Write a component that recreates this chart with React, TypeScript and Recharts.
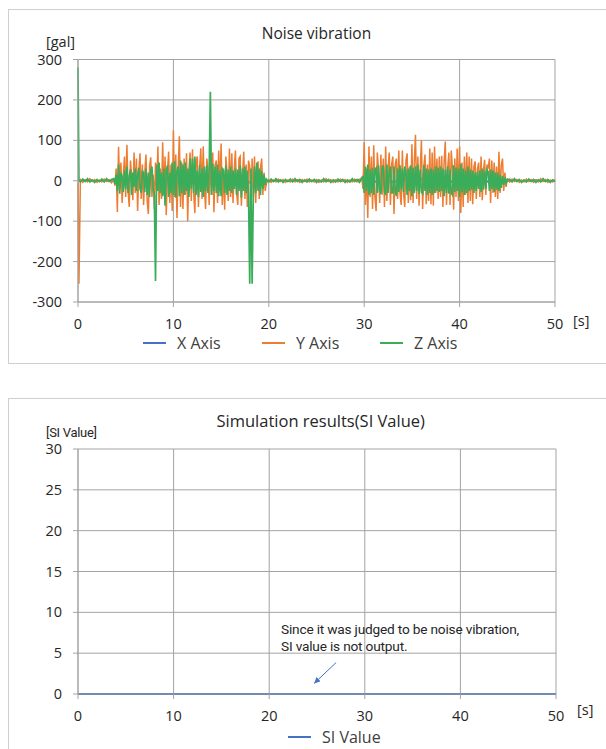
import React from "react";
import { CartesianGrid, Line, LineChart, ReferenceLine, XAxis, YAxis } from "recharts";

// sample times [s] of the Y / Z records
const time = [
  0, 0.1,
  0.25, 0.5, 0.75, 1, 1.25, 1.5, 1.75, 2, 2.25, 2.5, 2.75, 3, 3.25, 3.5,
  3.75, 3.875,
  4, 4.125, 4.25, 4.375, 4.5, 4.625, 4.75, 4.875,
  5, 5.125, 5.25, 5.375, 5.5, 5.625, 5.75, 5.875,
  6, 6.125, 6.25, 6.375, 6.5, 6.625, 6.75, 6.875,
  7, 7.125, 7.25, 7.375, 7.5, 7.625, 7.75, 7.875,
  8, 8.125, 8.25, 8.375, 8.5, 8.625, 8.75, 8.875,
  9, 9.125, 9.25, 9.375, 9.5, 9.625, 9.75, 9.875,
  10, 10.125, 10.25, 10.375, 10.5, 10.625, 10.75, 10.875,
  11, 11.125, 11.25, 11.375, 11.5, 11.625, 11.75, 11.875,
  12, 12.125, 12.25, 12.375, 12.5, 12.625, 12.75, 12.875,
  13, 13.125, 13.25, 13.375, 13.5, 13.625, 13.75, 13.875,
  14, 14.125, 14.25, 14.375, 14.5, 14.625, 14.75, 14.875,
  15, 15.125, 15.25, 15.375, 15.5, 15.625, 15.75, 15.875,
  16, 16.125, 16.25, 16.375, 16.5, 16.625, 16.75, 16.875,
  17, 17.125, 17.25, 17.375, 17.5, 17.625, 17.75, 17.875,
  18, 18.125, 18.25, 18.375, 18.5, 18.625, 18.75, 18.875,
  19, 19.125, 19.25, 19.375, 19.5, 19.625, 19.75,
  20, 20.25, 20.5, 20.75, 21, 21.25, 21.5, 21.75, 22, 22.25,
  22.5, 22.75, 23, 23.25, 23.5, 23.75, 24, 24.25, 24.5, 24.75,
  25, 25.25, 25.5, 25.75, 26, 26.25, 26.5, 26.75, 27, 27.25,
  27.5, 27.75, 28, 28.25, 28.5, 28.75, 29, 29.25, 29.5,
  29.75, 29.875,
  30, 30.125, 30.25, 30.375, 30.5, 30.625, 30.75, 30.875,
  31, 31.125, 31.25, 31.375, 31.5, 31.625, 31.75, 31.875,
  32, 32.125, 32.25, 32.375, 32.5, 32.625, 32.75, 32.875,
  33, 33.125, 33.25, 33.375, 33.5, 33.625, 33.75, 33.875,
  34, 34.125, 34.25, 34.375, 34.5, 34.625, 34.75, 34.875,
  35, 35.125, 35.25, 35.375, 35.5, 35.625, 35.75, 35.875,
  36, 36.125, 36.25, 36.375, 36.5, 36.625, 36.75, 36.875,
  37, 37.125, 37.25, 37.375, 37.5, 37.625, 37.75, 37.875,
  38, 38.125, 38.25, 38.375, 38.5, 38.625, 38.75, 38.875,
  39, 39.125, 39.25, 39.375, 39.5, 39.625, 39.75, 39.875,
  40, 40.125, 40.25, 40.375, 40.5, 40.625, 40.75, 40.875,
  41, 41.125, 41.25, 41.375, 41.5, 41.625, 41.75, 41.875,
  42, 42.125, 42.25, 42.375, 42.5, 42.625, 42.75, 42.875,
  43, 43.125, 43.25, 43.375, 43.5, 43.625, 43.75, 43.875,
  44, 44.125, 44.25, 44.375, 44.5, 44.625, 44.75, 44.875,
  45,
  45.25, 45.5, 45.75, 46, 46.25, 46.5, 46.75, 47, 47.25, 47.5,
  47.75, 48, 48.25, 48.5, 48.75, 49, 49.25, 49.5, 49.75, 50,
];

// Y Axis [gal]
const yAxisG = [
  -5, -255,
  3, -4, 2, -3, 5, -2, 3, -4, 2, -3, 4, -2, 3, -5,
  2, -12,
  30, -77, 84, -20, 45, -55, 15, 60,
  -40, 89, -25, -65, 50, 10, -48, 70,
  -30, 55, -75, 25, 68, -45, 40, -60,
  20, 65, -50, -82, 35, 58, -40, 15,
  -70, 45, -25, 85, -60, 30, -45, 95,
  -35, 60, -85, 20, 72, -55, 40, -75,
  125, -40, 65, -92, 30, 110, -65, 45,
  -70, 55, -35, 68, -100, 25, 70, -50,
  78, -30, -80, 45, 60, -65, 35, 80,
  -45, 85, -20, -70, 55, 30, -60, 65,
  -35, 70, -78, 40, 50, -55, 75, -25,
  92, -60, 30, -72, 60, 20, -50, 80,
  -40, 68, -55, 25, 75, -30, -60, 55,
  60, -62, 15, 72, -45, 40, -65, 50,
  35, -70, 55, -40, 60, -55, 25, 48,
  -45, 30, 55, -35, 20, -25, -6,
  3, -4, 2, -3, 4, -2, 3, -4, 2, -3,
  4, -3, 2, -4, 3, -2, 4, -3, 2, -3,
  3, -4, 2, -3, 5, -2, 3, -4, 2, -3,
  4, -2, 3, -4, 2, -3, 4, -3, 2,
  8, -20,
  95, -60, 30, -92, 85, -40, 60, -70,
  88, -40, -75, 70, 25, -55, 65, -35,
  55, -65, 85, -50, 30, 70, -60, 40,
  60, -82, 40, 55, -45, 75, -30, -60,
  75, -30, -65, 50, 68, -55, 35, -48,
  90, -55, 45, 114, -45, 60, -62, 30,
  100, -70, 35, 65, -58, 40, -50, 80,
  -58, 70, -62, 85, -30, 55, -45, 60,
  -40, 62, -65, 45, 97, -60, 30, 70,
  -60, 75, 30, -72, 55, -40, 80, -50,
  85, -80, 45, -65, 60, -35, 70, -55,
  60, -50, 55, -58, 35, 48, -45, 30,
  45, -40, 60, -48, 25, 52, -35, 40,
  30, 55, -55, 50, -30, 45, -40, 35,
  -45, 72, -30, 40, 55, -25, 20, -15,
  4,
  -3, 4, -2, 3, -4, 2, -3, 4, -2, 3,
  -4, 2, -3, 5, -2, 3, -4, 2, -3, 3,
];

// Z Axis [gal]
const zAxisG = [
  280, 2,
  -3, 4, -2, 5, -3, 2, -4, 3, -2, 4, -3, 5, -2, 3,
  5, -8,
  15, -25, 40, -32, 20, 10, -28, 25,
  -20, 35, -30, 12, 28, -35, 20, -15,
  30, -25, 15, 32, -20, -30, 25, 18,
  -28, 30, -35, 20, -40, 25, 35, -20,
  -35, -248, 40, -25, 45, -30, 20, -38,
  30, -62, 25, 38, -40, 20, -30, 45,
  -35, 48, -42, 25, 35, -38, 50, -30,
  40, -35, 45, -25, 30, -40, 55, -20,
  55, -30, 60, -35, 25, -40, 38, -28,
  30, -40, 35, -25, 38, -30, 28, 220,
  -35, 42, -25, 35, -30, 40, -38, 25,
  -38, 30, 25, -30, 38, -35, 28, -25,
  35, -30, 25, -20, 30, -35, 28, -25,
  38, -42, 30, -25, 35, -30, 25, -35,
  -255, 30, -255, -40, 35, -30, 45, -25,
  30, -35, 25, -20, 15, -10, 4,
  -3, 4, -2, 5, -3, 2, -4, 3, -2, 4,
  -3, 5, -2, 3, -4, 2, -3, 4, -2, 3,
  -4, 2, -3, 5, -2, 3, -4, 2, -3, 4,
  -2, 3, -4, 2, -3, 5, -2, 3, -4,
  5, 12,
  -30, 35, -25, 40, -35, 28, -30, 32,
  -35, 28, 32, -30, 38, -25, -32, 30,
  38, -28, -35, 40, -30, 25, 35, -30,
  -30, 35, -25, -38, 30, -28, 38, -22,
  30, -28, 35, 25, -35, 30, -25, 38,
  -38, 32, -30, 35, -25, 40, -32, 28,
  -28, -32, 38, -25, 30, -35, 28, -30,
  30, -35, 28, -30, 35, -25, 32, -28,
  35, -25, 30, -38, 28, -30, 35, -32,
  28, -30, -35, 38, -28, 32, -25, 30,
  -40, 42, -28, 30, -35, 25, -30, 35,
  -25, 28, -22, 25, -30, 20, -25, 22,
  -20, 25, -28, 30, -22, 25, -20, 28,
  22, -25, 28, -20, 25, -28, 20, -22,
  20, -25, 15, -18, 12, -10, 8, -6,
  3,
  4, -3, 5, -2, 3, -4, 2, -3, 4, -2,
  3, -4, 2, -3, 5, -2, 3, -4, 2, -3,
];

// X Axis [gal], recorded once per second
const xAxisTime = [
  0, 1, 2, 3, 4, 5, 6, 7, 8, 9,
  10, 11, 12, 13, 14, 15, 16, 17, 18, 19,
  20, 21, 22, 23, 24, 25, 26, 27, 28, 29,
  30, 31, 32, 33, 34, 35, 36, 37, 38, 39,
  40, 41, 42, 43, 44, 45, 46, 47, 48, 49,
  50,
];
const xAxisG = [
  0, 2, -1, 1, -2, 3, -4, 5, -5, 6,
  -6, 5, -5, 6, -4, 5, -6, 4, -5, 3,
  -1, 1, -1, 2, -1, 1, -2, 1, -1, 2,
  4, -5, 6, -4, 5, -6, 4, -5, 6, -4,
  5, -3, 4, -3, 2, -1, 1, -1, 2, -1,
  1,
];

const siTime = [0, 10, 20, 30, 40, 50];
const siValue = [0, 0, 0, 0, 0, 0];

const timeTicks = [0, 10, 20, 30, 40, 50];
const galTicks = [-300, -200, -100, 0, 100, 200, 300];
const siTicks = [0, 5, 10, 15, 20, 25, 30];

const noiseRows = time.map((t, i) => ({ t, y: yAxisG[i], z: zAxisG[i] }));
const xRows = xAxisTime.map((t, i) => ({ t, x: xAxisG[i] }));
const siRows = siTime.map((t, i) => ({ t, si: siValue[i] }));

const GRID = "#a3a3a3";
const BLUE = "#4472c4";
const ORANGE = "#ed7d31";
const GREEN = "#3aad5b";
const TEXT = "#262626";
const SANS = "'Open Sans', sans-serif";
const tickStyle = { fill: TEXT, fontSize: 14.5, fontFamily: SANS };

const Label = ({ left, top, size, children, font = SANS, width }: any) => (
  <div
    style={{
      position: "absolute",
      left,
      top,
      width,
      fontSize: size,
      lineHeight: "20px",
      fontFamily: font,
      color: TEXT,
      whiteSpace: "nowrap",
      textAlign: width ? "center" : "left",
    }}
  >
    {children}
  </div>
);

const LegendItem = ({ left, top, color, label }: any) => (
  <div
    style={{
      position: "absolute",
      left,
      top,
      display: "flex",
      alignItems: "center",
      height: 20,
      fontSize: 16,
      fontFamily: SANS,
      color: "#404040",
    }}
  >
    <span style={{ display: "inline-block", width: 23, height: 2.5, background: color, marginRight: 11 }} />
    {label}
  </div>
);

const box = (top: number, height: number) => ({
  position: "absolute" as const,
  left: 8,
  top,
  width: 620,
  height,
  border: "1px solid #cfcfcf",
  boxSizing: "border-box" as const,
});

const App = () => {
  return (
    <div
      style={{
        position: "absolute",
        left: 0,
        top: 0,
        width: 606,
        height: 749,
        overflow: "hidden",
        background: "#fff",
      }}
    >
      <div style={box(9, 355)} />
      <div style={box(398, 400)} />

      {/* Noise vibration */}
      <div style={{ position: "absolute", left: 0, top: 0 }}>
        <LineChart width={606} height={363} data={noiseRows} margin={{ top: 59.5, right: 51, bottom: 31, left: 0 }}>
          <CartesianGrid stroke={GRID} />
          <XAxis
            type="number"
            dataKey="t"
            domain={[0, 50]}
            ticks={timeTicks}
            interval={0}
            height={30}
            tickSize={5}
            tickMargin={12}
            stroke={GRID}
            tick={tickStyle}
          />
          <YAxis
            type="number"
            domain={[-300, 300]}
            ticks={galTicks}
            interval={0}
            width={78}
            tickSize={5}
            tickMargin={11}
            stroke={GRID}
            tick={tickStyle}
          />
          <Line data={xRows} dataKey="x" stroke={BLUE} strokeWidth={1.5} dot={false} isAnimationActive={false} />
          <Line dataKey="y" stroke={ORANGE} strokeWidth={1.5} dot={false} isAnimationActive={false} />
          <Line dataKey="z" stroke={GREEN} strokeWidth={1.7} dot={false} isAnimationActive={false} />
        </LineChart>
      </div>
      <Label left={216.5} width={200} top={23} size={15.5}>Noise vibration</Label>
      <Label left={46} top={32} size={14.5}>[gal]</Label>
      <Label left={573} top={311} size={14.5}>[s]</Label>
      <LegendItem left={143} top={333} color={BLUE} label="X Axis" />
      <LegendItem left={262} top={333} color={ORANGE} label="Y Axis" />
      <LegendItem left={380} top={333} color={GREEN} label="Z Axis" />

      {/* Simulation results */}
      <div style={{ position: "absolute", left: 0, top: 380 }}>
        <LineChart width={606} height={369} data={siRows} margin={{ top: 69, right: 50, bottom: 25, left: 0 }}>
          <defs>
            <marker id="siArrow" markerWidth="8" markerHeight="8" refX="6" refY="3" orient="auto" markerUnits="userSpaceOnUse">
              <path d="M0,0 L6,3 L0,6 z" fill={BLUE} />
            </marker>
          </defs>
          <CartesianGrid stroke={GRID} />
          <XAxis
            type="number"
            dataKey="t"
            domain={[0, 50]}
            ticks={timeTicks}
            interval={0}
            height={30}
            tickSize={5}
            tickMargin={12}
            stroke={GRID}
            tick={tickStyle}
          />
          <YAxis
            type="number"
            domain={[0, 30]}
            ticks={siTicks}
            interval={0}
            width={78}
            tickSize={5}
            tickMargin={11}
            stroke={GRID}
            tick={tickStyle}
          />
          <ReferenceLine
            segment={[
              { x: 27, y: 3.85 },
              { x: 24.7, y: 1.3 },
            ]}
            shape={(p: any) => (
              <line x1={p.x1} y1={p.y1} x2={p.x2} y2={p.y2} stroke={BLUE} strokeWidth={1} markerEnd="url(#siArrow)" />
            )}
          />
          <Line dataKey="si" stroke={BLUE} strokeWidth={2} dot={false} isAnimationActive={false} />
        </LineChart>
      </div>
      <Label left={216.5} width={200} top={411} size={16.5}>Simulation results(SI Value)</Label>
      <Label left={46} top={423} size={13} font="Roboto, sans-serif">
        <span style={{ letterSpacing: -0.3 }}>[SI Value]</span>
      </Label>
      <div
        style={{
          position: "absolute",
          left: 281,
          top: 621,
          fontSize: 13.7,
          lineHeight: "17px",
          fontFamily: "Roboto, sans-serif",
          letterSpacing: -0.2,
          color: TEXT,
          whiteSpace: "nowrap",
        }}
      >
        Since it was judged to be noise vibration,
        <br />
        SI value is not output.
      </div>
      <Label left={577} top={700} size={14.5}>[s]</Label>
      <LegendItem left={288} top={727} color={BLUE} label="SI Value" />
    </div>
  );
};

export default App;
